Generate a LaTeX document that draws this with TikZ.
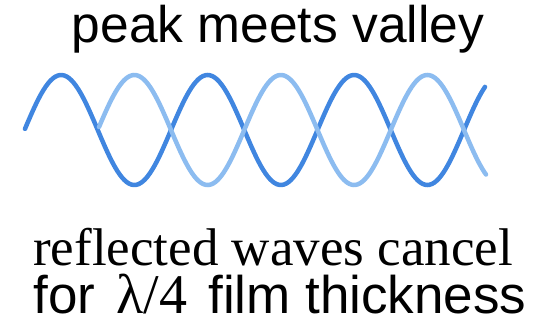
\documentclass[tikz,border=0pt]{standalone}
\usepackage{fontspec}
\setmainfont{Liberation Serif}
\setsansfont{Liberation Sans}
\usepackage{tikz}
\usetikzlibrary{positioning}
\definecolor{wavedark}{RGB}{64,134,224}
\definecolor{wavelight}{RGB}{140,188,240}

\begin{document}
\begin{tikzpicture}[
  x=1pt, y=-1pt,
  caption/.style={inner sep=0pt, anchor=base, font=\sffamily\fontsize{51.5}{51.5}\selectfont},
  serifcap/.style={inner sep=0pt, anchor=base, font=\rmfamily\fontsize{53}{53}\selectfont},
  wave/.style={line width=4.5pt, line cap=round, samples=200, smooth}
]
\useasboundingbox (0,0) rectangle (554,332);

\node[caption] (top) at (278,42) {peak meets valley};

% the two waves, half a period apart (period 146.5)
\draw[wave, wavedark, domain=25:485]
  plot (\x, {130 - 55*sin(2.4573*(\x-24.5))});
\draw[wave, wavelight, domain=99:486]
  plot (\x, {130 + 55*sin(2.4573*(\x-24.5))});

\node[serifcap] (cancel) at (273,265) {reflected waves cancel};
\node[caption, font=\sffamily\fontsize{53}{53}\selectfont] (film) at (280,313)
  {for \hspace{0.12em}{\rmfamily\fontsize{56}{56}\selectfont λ/4}\hspace{0.12em} film thickness};
\end{tikzpicture}
\end{document}
